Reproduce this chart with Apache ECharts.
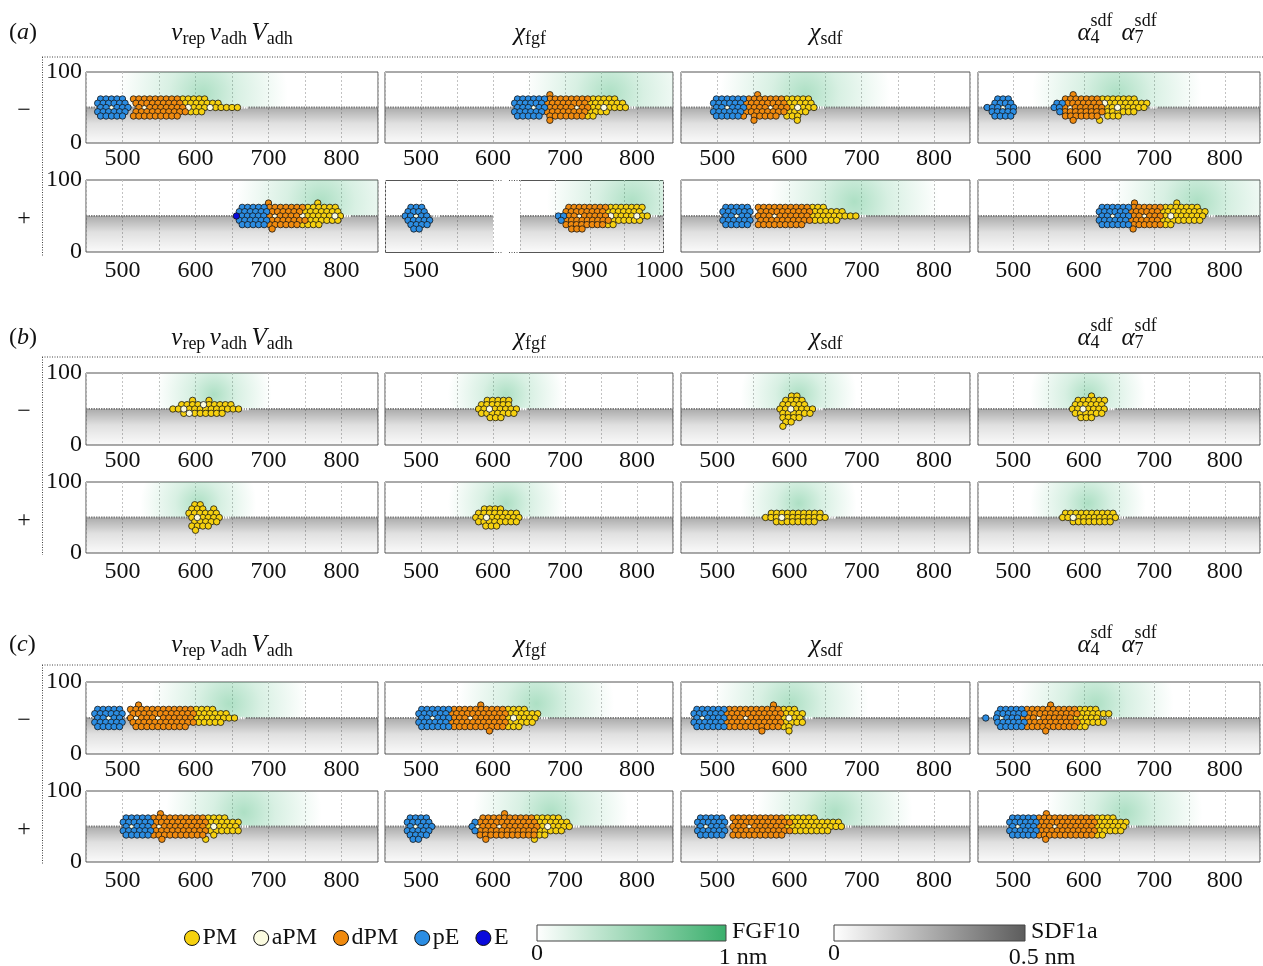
<!DOCTYPE html>
<html><head><meta charset="utf-8">
<script src="https://cdn.jsdelivr.net/npm/echarts@6/dist/echarts.min.js"></script>
<style>html,body{margin:0;padding:0;background:#fff}#c{width:1263px;height:966px}</style>
</head><body><div id="c"></div>
<script>
// ---------------- DATA ----------------
const typeNames  = ['PM', 'aPM', 'dPM', 'pE', 'E'];
const typeCodes  = ['Y', 'W', 'D', 'B', 'E'];
const typeColors = ['#f6d10f', '#fbfbe0', '#f08a0e', '#2b8de3', '#0a0adc'];
const sectionLabels = ['a', 'b', 'c'];
const rowSigns = ['\u2212', '+'];
const yTickLabels = [0, 100];
const xTickStep = 100;
const fgfLegend = ['FGF10', '0', '1 nm'];
const sdfLegend = ['SDF1a', '0', '0.5 nm'];

// cell rows: "rowLevel xStart runs"  (run: type code + count, _ = empty slot)
const cellsAm = [
 ["2 470 B5 _1 D9 Y5","1 466 B6 _1 D9 Y7","0 470 B2 W1 B3 _1 D1 W1 D7 W1 Y3 W1 Y5","-1 466 B6 _1 D10 Y3","-2 470 B5 _1 D9"],
 ["3 679 D1","2 634 B6 D8 Y5","1 630 B6 D8 Y7","0 634 B3 W1 B2 D5 W1 D2 Y2 W1 Y4","-1 630 B6 D8 Y4","-2 634 B5 _1 D7 Y2","-3 679 D1"],
 ["3 556 D1","2 499 B6 D7 Y5","1 495 B6 D8 Y5","0 499 B2 W1 B3 D4 W1 D3 Y1 W1 Y3","-1 495 B6 D8 Y4","-2 499 B5 D1 _1 D5 _1 Y3","-3 551 D1 _7 Y1"],
 ["2 478 B3","1 474 B4","0 463 B3 W1 B2","-1 470 B5","-2 474 B4",
  "3 585 D1","2 574 D7 Y7","1 562 B2 D7 W1 Y8","0 558 B2 D1 W1 D6 Y2 W1 Y5","-1 566 B1 D8 Y6","-2 574 D7 _1 Y3","-3 585 D1 _4 Y1"]
];
const cellsAp = [
 ["3 700 D1 _8 Y1","2 664 B5 D7 Y6","1 660 B6 D6 Y7","0 656 E1 B5 D1 W1 D4 W1 Y5 W1 Y1","-1 660 B6 D7 Y6","-2 664 B5 D6 Y4","-3 705 D1"],
 ["2 486 B3","1 482 B4","0 478 B2 W1 B2","-1 482 B5","-2 486 B4","-3 490 B2",
  "2 870 D8 Y7","1 866 D8 Y7","0 855 B2 D2 W1 D5 W1 Y4 W1 Y2","-1 859 B1 D9 Y6","-2 866 D8 Y2","-3 874 D3"],
 ["2 512 B5 _1 D10 Y3","1 508 B6 _1 D10 Y6","0 512 B2 W1 B2 _1 D3 W1 D6 Y9","-1 508 B6 _1 D10 Y5","-2 512 B5 _1 D9"],
 ["3 672 D1 _7 Y1","2 626 B6 D6 Y7","1 622 B6 D6 Y9","0 626 B2 W1 B3 D2 W1 D3 Y1 W1 Y6","-1 622 B6 D6 Y8","-2 626 B6 D6 Y2","-3 670 D1"]
];
const cellsBm = [
 ["2 596 Y1 _2 Y1","1 581 Y4 W1 Y5","0 569 Y2 W1 Y10","-1 584 Y1 W1 Y6"],
 ["2 592 Y5","1 584 Y6","0 580 Y2 W1 Y5","-1 584 Y7","-2 596 Y3"],
 ["3 603 Y2","2 595 Y4","1 591 Y5","0 587 Y2 W1 Y4","-1 591 Y6","-2 591 Y4","-3 595 Y2","-4 591 Y1"],
 ["3 611 Y1","2 592 Y6","1 588 Y6","0 584 Y2 W1 Y4","-1 588 Y6","-2 596 Y3"]
];
const cellsBp = [
 ["3 599 Y2","2 595 Y3 _1 Y1","1 591 Y6","0 595 Y1 W1 Y4","-1 599 Y5","-2 595 Y4","-3 600 Y1"],
 ["2 588 Y4","1 580 Y8","0 576 Y2 W1 Y6","-1 580 Y8","-2 590 Y3"],
 ["1 575 Y10","0 567 Y3 W1 Y8","-1 582 Y8"],
 ["1 574 Y10","0 570 Y2 W1 Y8","-1 585 Y8"]
];
const cellsCm = [
 ["3 522 D1","2 466 B5 _1 D12 Y4","1 462 B6 _1 D12 Y6","0 466 B2 W1 B2 _1 D1 W1 D3 W1 D6 Y8","-1 462 B6 _1 D12 Y5","-2 466 B5 _2 D10"],
 ["3 583 D1","2 501 B6 D10 Y4","1 497 B6 D11 Y6","0 501 B2 W1 B3 D3 W1 D6 Y1 W1 Y4","-1 497 B6 D11 Y5","-2 501 B6 D10 Y3","-3 595 D1"],
 ["3 578 D1","2 472 B6 D10 Y3","1 468 B6 D11 Y4","0 472 B1 W1 B4 D3 W1 D6 Y1 W1 Y2","-1 468 B6 D11 Y4","-2 472 B6 D10 Y2","-3 562 D1 _4 Y1"],
 ["3 553 D1","2 482 B5 D10 Y4","1 478 B6 D10 Y6","0 461 B1 _1 B1 W1 B3 D3 W1 D6 Y5","-1 478 B6 D10 Y5","-2 482 B5 D10 Y2","-3 546 D1"]
];
const cellsCp = [
 ["3 552 D1","2 505 B5 D10 Y4","1 501 B6 D10 Y6","0 505 B1 W1 B3 D1 W1 D8 Y1 W1 Y4","-1 501 B6 D10 Y6","-2 505 B5 D10 _1 Y1","-3 554 D1 _7 Y1"],
 ["2 485 B4","1 481 B5","0 485 B1 W1 B3","-1 481 B5","-2 485 B4","-3 489 B2",
  "3 616 D1","2 586 D10 Y5","1 575 B1 D11 Y6","0 571 B1 W1 D3 W1 D7 Y1 W1 Y4","-1 575 B1 D11 Y5","-2 582 D11 Y2","-3 590 D1 _8 Y1"],
 ["2 477 B5 _1 D10 Y6","1 473 B6 _1 D11 Y9","0 477 B1 W1 B3 _1 D3 W1 D6 Y11","-1 473 B6 _1 D11 Y7","-2 477 B5 _1 D10"],
 ["3 547 D1","2 499 B5 D11 Y4","1 495 B6 D11 Y6","0 499 B1 W1 B3 D3 W1 D7 Y6","-1 495 B6 D11 Y5","-2 499 B5 D11 Y2","-3 546 D1"]
];
// FGF10 glow centre (x, data units) per panel
const glowAm = [610, 762, 622, 647];
const glowAp = [772, 960, 690, 761];
const glowBm = [625, 618, 613, 606];
const glowBp = [604, 618, 613, 606];
const glowCm = [646, 660, 602, 617];
const glowCp = [666, 680, 663, 658];

// ---------------- LAYOUT / STYLE ----------------
const FONT = '"Liberation Serif", "DejaVu Serif", serif';
const FS = 24;
const CELL_STEP = 7.5, ROW_STEP = 6;
const allCells = [cellsAm, cellsAp, cellsBm, cellsBp, cellsCm, cellsCp];
const allGlow  = [glowAm, glowAp, glowBm, glowBp, glowCm, glowCp];
const glowR = [85, 85, 58, 58, 78, 78];
const colBoxes = [[86, 292], [385, 288], [681, 289], [978, 291]];
const rowBoxes = [[72, 71, 4], [180, 72, 7], [373, 72, 4], [482, 71, 7], [682, 72, 4], [791, 71, 7]];
const sectionY = [[33, 57, 256], [338, 357, 555], [645, 665, 864]];
const colTitleX = [232, 530, 826, 1117];

function parseRows(rows) {
  const out = [];
  rows.forEach(r => {
    const parts = r.trim().split(/\s+/);
    const L = +parts[0]; let x = +parts[1];
    for (let k = 2; k < parts.length; k++) {
      const code = parts[k][0], n = +parts[k].slice(1);
      for (let j = 0; j < n; j++) {
        if (code !== '_') out.push([x, 50 + ROW_STEP * L, code]);
        x += CELL_STEP;
      }
    }
  });
  return out;
}

const grids = [], xAxes = [], yAxes = [], series = [];

function addPanel(box, xmin, xmax, showBorder, showY, margin, cells, glowX, R) {
  const gi = grids.length;
  grids.push({left: box.left, top: box.top, width: box.width, height: box.height,
    show: showBorder, borderColor: '#555', borderWidth: 1, backgroundColor: 'transparent'});
  xAxes.push({gridIndex: gi, type: 'value', min: xmin, max: xmax, interval: 50,
    axisLine: {show: false}, axisTick: {show: false},
    splitLine: {show: true, lineStyle: {color: '#c2c2c2', width: 1, type: [2, 2]}},
    axisLabel: {margin: margin, fontFamily: FONT, fontSize: FS, color: '#111', hideOverlap: false,
      formatter: v => (v % xTickStep === 0 && v > xmin && v < xmax) ? String(v) : ''}});
  yAxes.push({gridIndex: gi, type: 'value', min: yTickLabels[0], max: yTickLabels[1], interval: 100,
    axisLine: {show: false}, axisTick: {show: false}, splitLine: {show: false},
    axisLabel: {show: showY, margin: 4, fontFamily: FONT, fontSize: FS, color: '#111'}});
  const maxX = cells.length ? Math.max(...cells.map(c => c[0])) : null;
  series.push({type: 'custom', xAxisIndex: gi, yAxisIndex: gi, z: 1, silent: true, animation: false,
    data: [[xmin, 50]],
    renderItem: (params, api) => {
      const pTop = api.coord([xmin, 100]);
      const pMid = api.coord([xmin, 50]);
      const pBot = api.coord([xmax, 0]);
      const w = pBot[0] - pMid[0];
      const children = [];
      children.push({type: 'rect', shape: {x: pMid[0], y: pMid[1], width: w, height: pBot[1] - pMid[1]},
        style: {fill: new echarts.graphic.LinearGradient(0, 0, 0, 1, [
          {offset: 0, color: 'rgba(0,0,0,0.33)'}, {offset: 0.45, color: 'rgba(0,0,0,0.12)'},
          {offset: 1, color: 'rgba(0,0,0,0.02)'}])}});
      if (glowX != null && glowX >= xmin && glowX <= xmax) {
        const cx = api.coord([glowX, 70]);
        children.push({type: 'rect', shape: {x: pTop[0], y: pTop[1], width: w, height: pMid[1] - pTop[1]},
          style: {fill: new echarts.graphic.RadialGradient(cx[0], cx[1], R, [
            {offset: 0, color: 'rgba(60,180,115,0.42)'}, {offset: 0.4, color: 'rgba(60,180,115,0.2)'},
            {offset: 1, color: 'rgba(60,180,115,0)'}], true)}});
      }
      children.push({type: 'line', shape: {x1: pMid[0], y1: pMid[1], x2: pBot[0], y2: pMid[1]},
        style: {stroke: '#7e7e7e', lineWidth: 2, lineDash: [1.5, 1]}});
      if (maxX != null) {
        const g0 = api.coord([maxX + 5, 50]), g1 = api.coord([Math.min(maxX + 14, xmax), 50]);
        children.push({type: 'line', shape: {x1: g0[0], y1: g0[1], x2: g1[0], y2: g1[1]},
          style: {stroke: '#ffffff', lineWidth: 2.5, lineDash: [1.5, 1]}});
      }
      return {type: 'group', children};
    }});
  typeCodes.forEach((code, t) => {
    const pts = cells.filter(c => c[2] === code).map(c => [c[0], c[1]]);
    if (!pts.length) return;
    series.push({type: 'scatter', name: typeNames[t], xAxisIndex: gi, yAxisIndex: gi, z: 3,
      silent: true, animation: false, symbol: 'circle', symbolSize: 6.4, data: pts,
      itemStyle: {color: typeColors[t], borderColor: '#151515', borderWidth: 0.8, opacity: 1}});
  });
}

rowBoxes.forEach((rb, r) => {
  colBoxes.forEach((cb, c) => {
    const cells = parseRows(allCells[r][c]);
    const glowX = allGlow[r][c];
    const box = {left: cb[0], top: rb[0], width: cb[1], height: rb[1]};
    if (r === 1 && c === 1) {
      addPanel({left: 385, top: rb[0], width: 108, height: rb[1]}, 450, 600, false, false, rb[2],
        cells.filter(p => p[0] < 700), null, glowR[r]);
      addPanel({left: 520, top: rb[0], width: 143, height: rb[1]}, 800, 1005, false, false, rb[2],
        cells.filter(p => p[0] >= 700), glowX, glowR[r]);
    } else {
      addPanel(box, 450, 850, true, c === 0, rb[2], cells, glowX, glowR[r]);
    }
  });
});

// ---------------- TEXT / DECORATION ----------------
const mctx = document.createElement('canvas').getContext('2d');
function mathText(pieces, x, y, align) {
  let cur = 0, pend = null; const placed = [];
  pieces.forEach(p => {
    mctx.font = (p.i ? 'italic ' : '') + p.s + 'px ' + FONT;
    const w = mctx.measureText(p.t).width;
    placed.push({p, x: cur});
    if (p.keep) { pend = cur + w; } else { cur = Math.max(cur + w, pend || 0); pend = null; }
  });
  const off = align === 'center' ? x - cur / 2 : x;
  return placed.map(pl => ({type: 'text', x: off + pl.x, y: y + (pl.p.dy || 0), silent: true,
    style: {text: pl.p.t, fontSize: pl.p.s, fontFamily: FONT, fontStyle: pl.p.i ? 'italic' : 'normal',
      fill: '#111', align: 'left', verticalAlign: 'middle'}}));
}
const M = 25, S = 18;
const colTitles = [
  [{t:'v',i:1,s:M},{t:'rep',s:S,dy:6},{t:' ',s:S},{t:'v',i:1,s:M},{t:'adh',s:S,dy:6},{t:' ',s:S},{t:'V',i:1,s:M},{t:'adh',s:S,dy:6}],
  [{t:'\u03c7',i:1,s:M},{t:'fgf',s:S,dy:6}],
  [{t:'\u03c7',i:1,s:M},{t:'sdf',s:S,dy:6}],
  [{t:'\u03b1',i:1,s:M},{t:'sdf',s:S,dy:-12,keep:1},{t:'4',s:S,dy:5},{t:'  ',s:S},{t:'\u03b1',i:1,s:M},{t:'sdf',s:S,dy:-12,keep:1},{t:'7',s:S,dy:5}]
];
const graphics = [];
sectionY.forEach((sy, k) => {
  graphics.push(...mathText([{t:'(',s:24},{t:sectionLabels[k],i:1,s:24},{t:')',s:24}], 9, sy[0], 'left'));
  colTitles.forEach((ct, c) => graphics.push(...mathText(ct, colTitleX[c], sy[0], 'center')));
  graphics.push({type: 'line', silent: true, shape: {x1: 42, y1: sy[1], x2: 1263, y2: sy[1]},
    style: {stroke: '#444', lineWidth: 1, lineDash: [1, 1.5]}});
  graphics.push({type: 'line', silent: true, shape: {x1: 42.5, y1: sy[1], x2: 42.5, y2: sy[2]},
    style: {stroke: '#444', lineWidth: 1, lineDash: [1, 1.5]}});
});
rowBoxes.forEach((rb, r) => {
  graphics.push({type: 'text', x: 24, y: rb[0] + rb[1] / 2 + 3, silent: true,
    style: {text: rowSigns[r % 2], fontSize: 24, fontFamily: FONT, fill: '#111', align: 'center', verticalAlign: 'middle'}});
});
// broken-axis panel borders
(function () {
  const t = 180.5, b = 252.5;
  const solid = {stroke: '#555', lineWidth: 1};
  const dots = {stroke: '#555', lineWidth: 1, lineDash: [1, 1.5]};
  graphics.push({type: 'polyline', silent: true, shape: {points: [[493, t], [385.5, t], [385.5, b], [493, b]]}, style: Object.assign({fill: null}, solid)});
  graphics.push({type: 'line', silent: true, shape: {x1: 493, y1: t, x2: 503, y2: t}, style: dots});
  graphics.push({type: 'line', silent: true, shape: {x1: 493, y1: b, x2: 503, y2: b}, style: dots});
  graphics.push({type: 'polyline', silent: true, shape: {points: [[520, t], [663.5, t], [663.5, b], [520, b]]}, style: Object.assign({fill: null}, solid)});
  graphics.push({type: 'line', silent: true, shape: {x1: 509, y1: t, x2: 520, y2: t}, style: dots});
  graphics.push({type: 'line', silent: true, shape: {x1: 509, y1: b, x2: 520, y2: b}, style: dots});
})();
// colour bars
function colourBar(x, w, c1, lab) {
  graphics.push({type: 'rect', silent: true, shape: {x: x, y: 925, width: w, height: 16},
    style: {fill: new echarts.graphic.LinearGradient(0, 0, 1, 0, [{offset: 0, color: '#ffffff'}, {offset: 1, color: c1}]),
      stroke: '#444', lineWidth: 1}});
  const ts = {fontSize: FS, fontFamily: FONT, fill: '#111', verticalAlign: 'middle'};
  graphics.push({type: 'text', silent: true, x: x + w + 6, y: 932, style: Object.assign({text: lab[0], align: 'left'}, ts)});
  graphics.push({type: 'text', silent: true, x: x, y: 954, style: Object.assign({text: lab[1], align: 'center'}, ts)});
  graphics.push({type: 'text', silent: true, x: x + w + 17, y: 958, style: Object.assign({text: lab[2], align: 'center'}, ts)});
}
colourBar(537, 189, '#3aaf6c', fgfLegend);
colourBar(834, 191, '#5c5c5c', sdfLegend);

const chart = echarts.init(document.getElementById('c'), null, {renderer: 'canvas', width: 1263, height: 966});
chart.setOption({
  animation: false,
  backgroundColor: '#ffffff',
  grid: grids, xAxis: xAxes, yAxis: yAxes, series: series,
  legend: {data: typeNames, left: 179, top: 921, icon: 'circle', itemWidth: 15, itemHeight: 15, itemGap: 16,
    selectedMode: false,
    itemStyle: {borderColor: '#111', borderWidth: 1},
    textStyle: {fontFamily: FONT, fontSize: FS, color: '#111', padding: [0, 0, 0, -2]}},
  graphic: graphics
});
</script></body></html>
